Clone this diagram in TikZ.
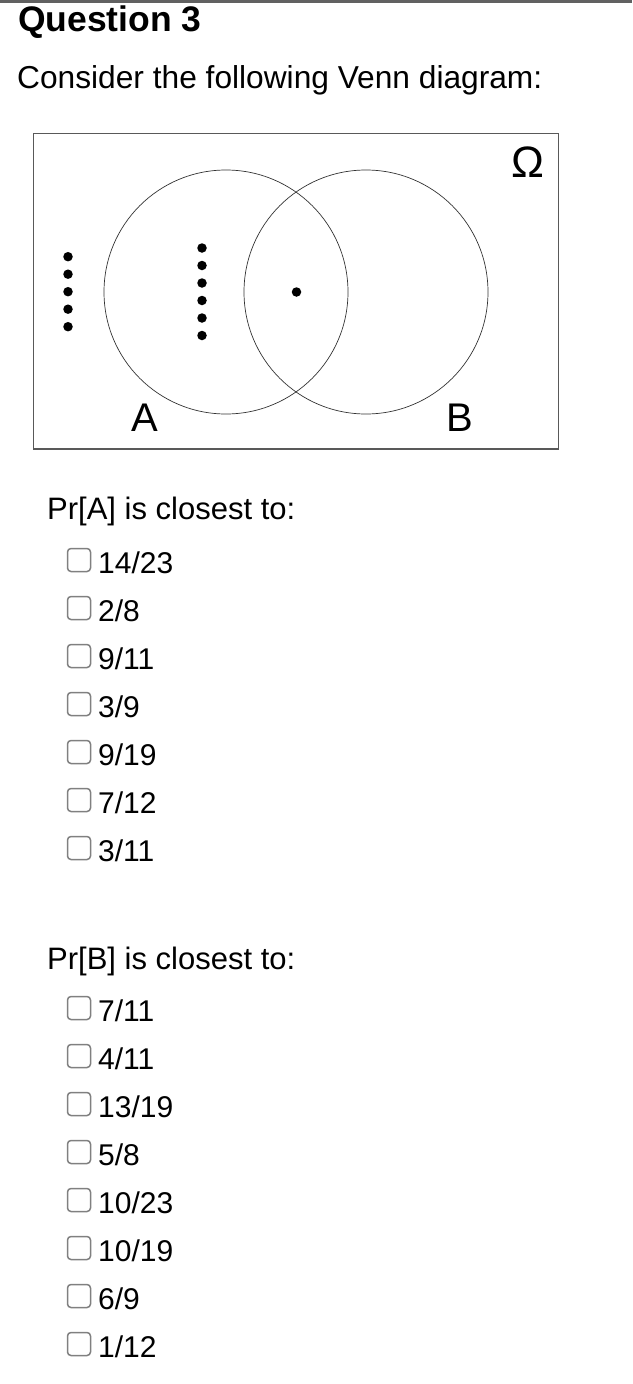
\documentclass[tikz,border=0pt]{standalone}
\usepackage{fontspec}
\setmainfont{Liberation Sans}
\usetikzlibrary{positioning}

\begin{document}
\begin{tikzpicture}[x=1pt,y=-1pt,
    qtext/.style={anchor=base west, inner sep=0pt, font=\fontsize{31}{36}\selectfont},
    opttext/.style={anchor=base west, inner sep=0pt, font=\fontsize{30}{36}\selectfont},
    optbox/.style={draw=black!50, line width=1.5pt, rounded corners=3.5pt, minimum size=23pt, inner sep=0pt},
    setlabel/.style={anchor=base, inner sep=0pt, font=\fontsize{40}{46}\selectfont},
    venndot/.style={circle, fill=black, inner sep=0pt, minimum size=9.5pt}]
  \useasboundingbox (0,0) rectangle (632,1384);
  \draw[line width=2.5pt, black!62] (0,1.25) -- (632,1.25);

  \node[qtext, font=\fontsize{35.5}{40}\selectfont\bfseries] (title) at (18,31) {Question 3};
  \node[qtext, font=\fontsize{31.7}{36}\selectfont] (intro) at (17,88) {Consider the following Venn diagram:};

  % venn diagram
  \draw[black!65, line width=1.1pt] (33.5,133.5) rectangle (558.5,449);
  \draw[black!80, line width=0.7pt] (226,292) circle[radius=122pt];
  \draw[black!80, line width=0.7pt] (366,292) circle[radius=122pt];
  \node[setlabel] (labA) at (145,431) {A};
  \node[setlabel] (labB) at (460,431) {B};
  \node[setlabel, font=\fontsize{44}{50}\selectfont] (labO) at (528,177) {Ω};

  \foreach \k in {0,...,4}
    \node[venndot] (outer\k) at (68,256.7+17.5*\k) {};
  \foreach \k in {0,...,5}
    \node[venndot] (onlyA\k) at (202,248+17.5*\k) {};
  \node[venndot] (both) at (296.5,292) {};

  % Pr[A]
  \node[qtext] (qA) at (47,519) {Pr[A] is closest to:};
  \foreach \t [count=\i from 0] in {{14/23},{2/8},{9/11},{3/9},{9/19},{7/12},{3/11}} {
    \node[optbox] (boxA\i) at (79,560+48*\i) {};
    \node[opttext] (optA\i) at (98,573+48*\i) {\t};
  }

  % Pr[B]
  \node[qtext] (qB) at (47,969) {Pr[B] is closest to:};
  \foreach \t [count=\i from 0] in {{7/11},{4/11},{13/19},{5/8},{10/23},{10/19},{6/9},{1/12}} {
    \node[optbox] (boxB\i) at (79,1008+48*\i) {};
    \node[opttext] (optB\i) at (98,1021+48*\i) {\t};
  }
\end{tikzpicture}
\end{document}
